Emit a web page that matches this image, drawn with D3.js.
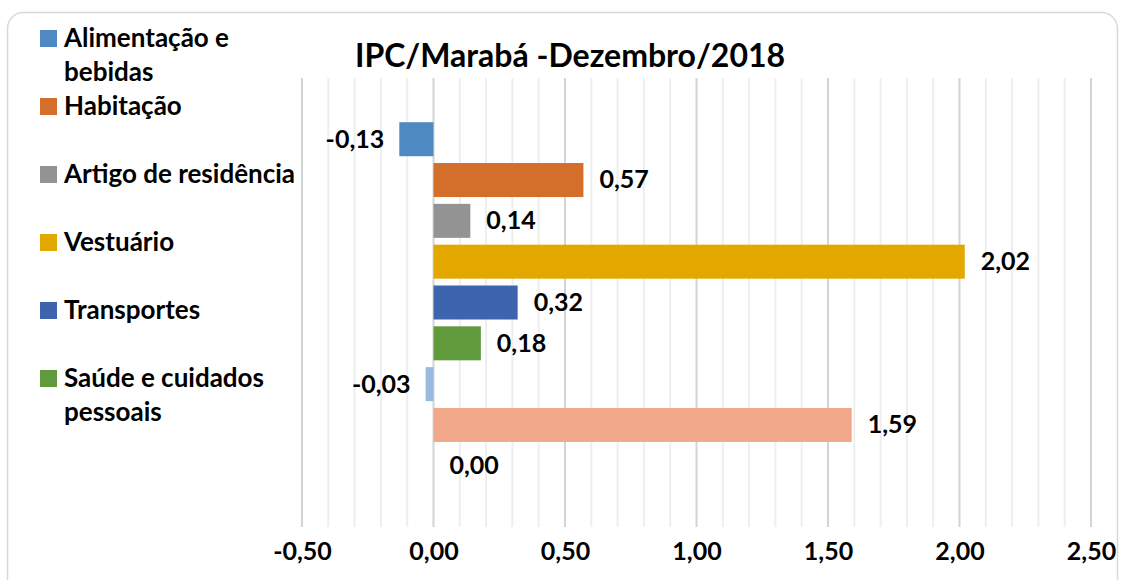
<!DOCTYPE html>
<html>
<head>
<meta charset="utf-8">
<script src="https://cdn.jsdelivr.net/npm/d3@7"></script>
<style>
  body { margin: 0; background: #fff; }
  text { font-family: Lato, "Open Sans", sans-serif; font-weight: 700; fill: #000; }
</style>
</head>
<body>
<svg width="1125" height="580"></svg>
<script>
// **** data ****
var barValues = [-0.13, 0.57, 0.14, 2.02, 0.32, 0.18, -0.03, 1.59, 0.00];
var barColors = ['#4e89c1', '#d36e2b', '#939393', '#e2a800', '#3e64ad', '#619a3d', '#9bb8de', '#f2a88b', '#6f6f6f'];
var legendLabels = [['Alimentação e', 'bebidas'], ['Habitação'], ['Artigo de residência'],
                    ['Vestuário'], ['Transportes'], ['Saúde e cuidados', 'pessoais']];
var tickValues = [-0.5, 0, 0.5, 1, 1.5, 2, 2.5];
var chartTitle = 'IPC/Marabá -Dezembro/2018';

// comma decimals, plain hyphen for negatives
var fmt = function(v) { return d3.format('.2f')(v).replace('.', ',').replace('\u2212', '-'); };

var svg = d3.select('svg');

// outer frame
svg.append('rect')
    .attr('x', 7.5).attr('y', 12.5)
    .attr('width', 1110).attr('height', 600)
    .attr('rx', 16)
    .attr('fill', '#fff')
    .attr('stroke', '#d9d9d9')
    .attr('stroke-width', 1.5);

var xScale = d3.scaleLinear().domain([-0.5, 2.5]).range([302, 1091]);
var yScale = d3.scaleBand()
    .domain(d3.range(barValues.length))
    .range([78, 527])
    .paddingInner(0.167)
    .paddingOuter(1.083);

// gridlines (minor every 0.1, major every 0.5)
var minor = d3.range(-5, 26).map(function(d) { return d / 10; });
svg.append('g').selectAll('line')
    .data(minor)
    .enter().append('line')
    .attr('x1', function(d) { return xScale(d); })
    .attr('x2', function(d) { return xScale(d); })
    .attr('y1', 78).attr('y2', 527)
    .attr('stroke', function(d) { return Math.abs(d * 2 - Math.round(d * 2)) < 1e-6 ? '#d4d4d4' : '#eeeeee'; })
    .attr('stroke-width', 2);

// bars
svg.append('g').selectAll('rect')
    .data(barValues)
    .enter().append('rect')
    .attr('x', function(d) { return xScale(Math.min(0, d)); })
    .attr('width', function(d) { return Math.abs(xScale(d) - xScale(0)); })
    .attr('y', function(d, i) { return yScale(i); })
    .attr('height', yScale.bandwidth())
    .attr('fill', function(d, i) { return barColors[i]; });

// value labels
svg.append('g').selectAll('text')
    .data(barValues)
    .enter().append('text')
    .attr('x', function(d) { return d < 0 ? xScale(d) - 15 : xScale(d) + 16; })
    .attr('y', function(d, i) { return yScale(i) + yScale.bandwidth() / 2 + 2; })
    .attr('dominant-baseline', 'middle')
    .attr('text-anchor', function(d) { return d < 0 ? 'end' : 'start'; })
    .style('font-size', '25px')
    .text(function(d) { return fmt(d); });

// x axis labels
var xAxis = svg.append('g')
    .attr('transform', 'translate(0,540)')
    .call(d3.axisBottom(xScale).tickValues(tickValues).tickSize(0).tickPadding(0).tickFormat(fmt));
xAxis.select('.domain').remove();
xAxis.selectAll('text')
    .attr('dy', null)
    .attr('y', 14)
    .attr('dominant-baseline', 'middle')
    .style('font-size', '25px')
    .style('font-family', 'Lato, sans-serif')
    .style('font-weight', 700)
    .attr('fill', '#000');

// title
svg.append('text')
    .attr('x', 570).attr('y', 67)
    .attr('text-anchor', 'middle')
    .style('font-size', '32px')
    .text(chartTitle);

// legend
var legend = svg.append('g').selectAll('g')
    .data(legendLabels)
    .enter().append('g')
    .attr('transform', function(d, i) { return 'translate(40,' + (30 + i * 68) + ')'; });
legend.append('rect')
    .attr('width', 17).attr('height', 17)
    .attr('fill', function(d, i) { return barColors[i]; });
legend.append('text')
    .attr('x', 24)
    .style('font-size', '26px')
    .selectAll('tspan')
    .data(function(d) { return d; })
    .enter().append('tspan')
    .attr('x', 24)
    .attr('y', function(d, j) { return 17 + j * 34; })
    .text(function(d) { return d; });
</script>
</body>
</html>
